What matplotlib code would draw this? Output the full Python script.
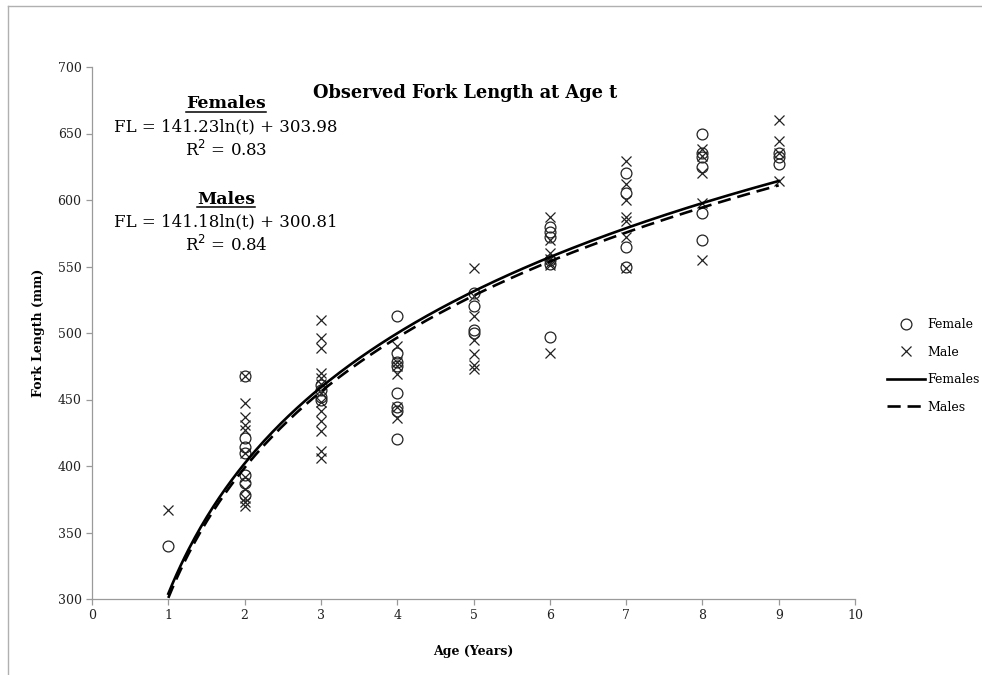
import numpy as np
import matplotlib
matplotlib.use("Agg")
import matplotlib.pyplot as plt
from matplotlib.lines import Line2D

plt.rcParams['font.family'] = ['DejaVu Serif']

# Observed fork lengths (mm) by age (years)
female_by_age = {
    1: [340],
    2: [468, 421, 414, 410, 393, 387, 378],
    3: [461, 457, 452, 450],
    4: [513, 485, 478, 475, 455, 444, 441, 420],
    5: [530, 520, 502, 500],
    6: [580, 576, 572, 555, 552, 497],
    7: [620, 605, 565, 550],
    8: [650, 635, 632, 625, 590, 570],
    9: [635, 632, 627],
}
male_by_age = {
    1: [367],
    2: [468, 447, 437, 431, 427, 410, 392, 383, 376, 373, 370],
    3: [510, 496, 489, 470, 466, 462, 455, 448, 441, 434, 426, 411, 406],
    4: [490, 478, 475, 469, 444, 436],
    5: [549, 528, 513, 495, 484, 476, 473],
    6: [587, 570, 560, 556, 553, 551, 485],
    7: [629, 612, 600, 587, 584, 572, 549],
    8: [638, 633, 620, 598, 555],
    9: [660, 644, 635, 614],
}

# Logarithmic fits FL = a*ln(t) + b
female_fit = (141.23, 303.98, 0.83)
male_fit = (141.18, 300.81, 0.84)

x_ticks = list(range(0, 11))
y_ticks = list(range(300, 701, 50))

W, H = 982, 675
fig = plt.figure(figsize=(W / 100, H / 100), dpi=100)
ax = fig.add_axes([92 / W, 1 - 599 / H, (855 - 92) / W, (599 - 67) / H])


def flatten(d):
    xs, ys = [], []
    for age, vals in d.items():
        xs += [age] * len(vals)
        ys += vals
    return np.array(xs), np.array(ys)


fx, fy = flatten(female_by_age)
mx, my = flatten(male_by_age)

ax.plot(fx, fy, linestyle='none', marker='o', markersize=7.8,
        markerfacecolor='none', markeredgecolor='#222222',
        markeredgewidth=0.9, label='Female', zorder=3)
ax.plot(mx, my, linestyle='none', marker='x', markersize=7.8,
        markeredgecolor='#222222', markeredgewidth=0.9,
        label='Male', zorder=3)

t = np.linspace(1, 9, 300)
ax.plot(t, female_fit[0] * np.log(t) + female_fit[1], color='black',
        lw=1.9, label='Females', zorder=4)
ax.plot(t, male_fit[0] * np.log(t) + male_fit[1], color='black',
        lw=1.9, dashes=(5, 2.6), label='Males', zorder=4)

ax.set_xlim(0, 10)
ax.set_ylim(300, 700)
ax.set_xticks(x_ticks)
ax.set_yticks(y_ticks)
for s in ['top', 'right']:
    ax.spines[s].set_visible(False)
for s in ['left', 'bottom']:
    ax.spines[s].set_color('#9a9a9a')
    ax.spines[s].set_linewidth(0.9)
ax.tick_params(axis='both', colors='#9a9a9a', length=4, width=0.9,
               labelsize=9, labelcolor='#222222', direction='out')

ax.set_xlabel('Age (Years)', fontsize=9, fontweight='bold', labelpad=16)
ax.set_ylabel('Fork Length (mm)', fontsize=9, fontweight='bold', labelpad=9)

fig.text(465 / W, 1 - 93 / H, 'Observed Fork Length at Age t',
         ha='center', va='center', fontsize=12.8, fontweight='bold')

# Fitted equations
cx = 226 / W
heads = []
for name, fit, y0 in [('Females', female_fit, 104), ('Males', male_fit, 199)]:
    a, b, r2 = fit
    h = fig.text(cx, 1 - y0 / H, name, ha='center', va='center',
                 fontsize=12.5, fontweight='bold')
    heads.append(h)
    fig.text(cx, 1 - (y0 + 23) / H, f'FL = {a:.2f}ln(t) + {b:.2f}',
             ha='center', va='center', fontsize=12)
    fig.text(cx, 1 - (y0 + 46) / H, f'R$^2$ = {r2:.2f}',
             ha='center', va='center', fontsize=12)

fig.legend(loc='center left', bbox_to_anchor=(876 / W, 1 - 366 / H),
           frameon=False, fontsize=9, handlelength=3.0,
           labelspacing=1.15, handletextpad=0.2)

# Chart-area border
fig.add_artist(Line2D([8 / W, 8 / W], [0, 1 - 6 / H], color='#b0b0b0', lw=1))
fig.add_artist(Line2D([8 / W, 1], [1 - 6 / H, 1 - 6 / H], color='#b0b0b0', lw=1))

# Underline the group headings
fig.canvas.draw()
r = fig.canvas.get_renderer()
for h in heads:
    bb = h.get_window_extent(r)
    yline = (bb.y0 + 1) / H
    fig.add_artist(Line2D([bb.x0 / W, bb.x1 / W], [yline, yline],
                          color='black', lw=1.1))

fig.savefig('out.png', dpi=100)
